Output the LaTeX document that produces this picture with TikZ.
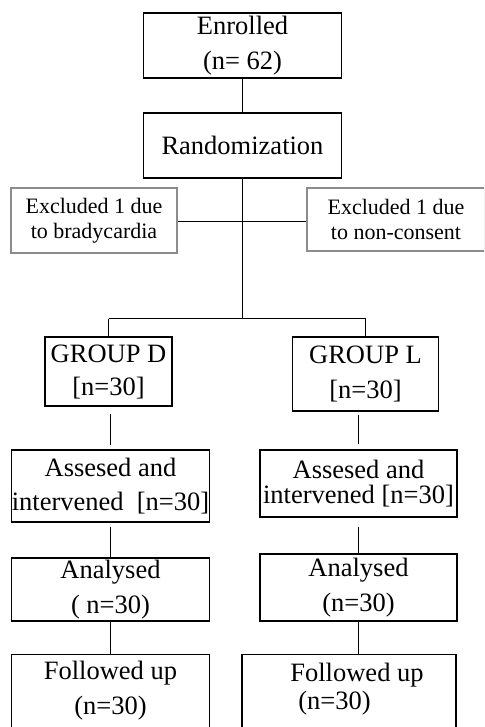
\documentclass[tikz,border=0pt]{standalone}
\usepackage{fontspec}
\setmainfont{Liberation Serif}
\begin{document}
\begin{tikzpicture}[x=1pt,y=-1pt,
  box/.style={draw=black,line width=1.4pt,rectangle,inner sep=0pt,align=center,
    font=\fontsize{26.5}{35}\selectfont},
  exbox/.style={draw=black!45,line width=1.3pt,rectangle,inner sep=0pt,align=center,
    font=\fontsize{22}{25}\selectfont},
  link/.style={line width=1.4pt,draw=black}]
\useasboundingbox (0,0) rectangle (484,727);
\clip (0,0) rectangle (484,727);
\fill[white] (0,0) rectangle (484,727);

\node[box,minimum width=198pt,minimum height=65pt] (enr) at (242.5,45.5) {Enrolled\\(n= 62)};
\node[box,minimum width=198pt,minimum height=65pt] (rnd) at (242.5,145.5) {Randomization};
\node[exbox,minimum width=166pt,minimum height=65pt] (exl) at (94,220.5) {Excluded 1 due\\to bradycardia};
\node[exbox,minimum width=178pt,minimum height=63pt] (exr) at (396,219.5) {Excluded 1 due\\to non-consent};

\node[box,minimum width=127pt,minimum height=69pt,font=\fontsize{26.5}{33}\selectfont] (gd) at (108.5,371.5) {GROUP D\\{}[n=30]};
\node[box,minimum width=146pt,minimum height=74pt] (gl) at (365.5,374) {GROUP L\\{}[n=30]};

\node[box,minimum width=198pt,minimum height=72pt,font=\fontsize{26.5}{34}\selectfont] (ad) at (110.5,486) {Assesed and\\intervened\ \ [n=30]};
\node[box,minimum width=197pt,minimum height=67pt,font=\fontsize{26.5}{25}\selectfont] (al) at (358.5,483.5) {Assesed and\\intervened [n=30]};

\node[box,minimum width=198pt,minimum height=63pt] (nd) at (110.5,589.5) {Analysed\\( n=30)};
\node[box,minimum width=197pt,minimum height=67pt] (nl) at (358.5,587.5) {Analysed\\(n=30)};

\node[box,minimum width=198pt,minimum height=80pt,anchor=north] (fd) at (110.5,654) {};
\node[font=\fontsize{26.5}{35}\selectfont,align=center,inner sep=0pt] (fdt) at (110.5,690.5) {Followed up\\(n=30)};
\node[box,minimum width=214pt,minimum height=80pt,anchor=north] (fl) at (349,654) {};
\node[font=\fontsize{26.5}{28}\selectfont,align=left,inner sep=0pt] (flt) at (357,689) {Followed up\\\hspace*{8pt}(n=30)};

\coordinate (split) at (242.5,318.5);
\coordinate (exj) at (242.5,221.5);

\draw[link] (enr.south) -- (rnd.north);
\draw[link] (rnd.south) -- (split);
\draw[link] (exl.east |- exj) -- (exr.west |- exj);
\draw[link] (split -| gd.north) -- (split -| gl.north);
\draw[link] (split -| gd.north) -- (gd.north);
\draw[link] (split -| gl.north) -- (gl.north);

\draw[link,shorten <=7pt,shorten >=4pt] (ad.north |- gd.south) -- (ad.north);
\draw[link,shorten <=3pt,shorten >=5pt] (al.north |- gl.south) -- (al.north);
\draw[link,shorten <=4pt] (ad.south) -- (nd.north);
\draw[link,shorten <=9pt] (al.south) -- (nl.north);
\draw[link] (nd.south) -- (fd.north);
\draw[link] (nl.south) -- (nl.south |- fl.north);
\end{tikzpicture}
\end{document}
